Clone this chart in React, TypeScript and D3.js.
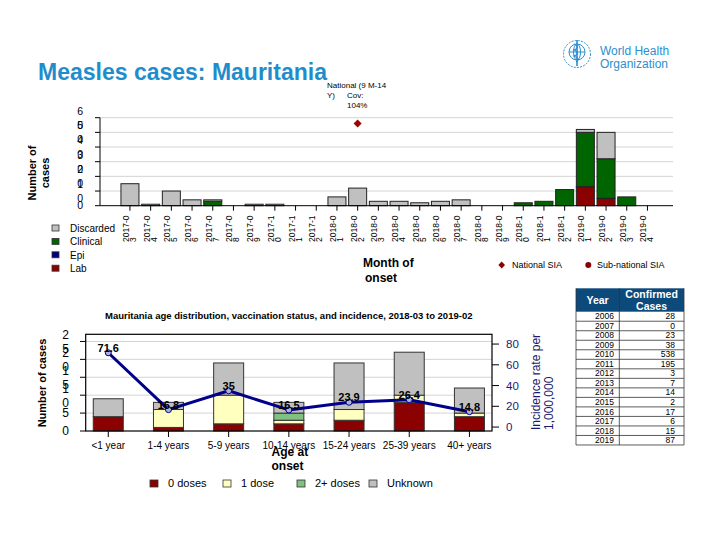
import React from "react";
import * as d3 from "d3";

// top chart: monthly cases by classification
const months = [
  "2017-03", "2017-04", "2017-05", "2017-06", "2017-07", "2017-08", "2017-09", "2017-10",
  "2017-11", "2017-12", "2018-01", "2018-02", "2018-03", "2018-04", "2018-05", "2018-06",
  "2018-07", "2018-08", "2018-09", "2018-10", "2018-11", "2018-12", "2019-01", "2019-02",
  "2019-03", "2019-04",
];
const lab = [0, 0, 0, 0, 0, 0, 0, 0, 0, 0, 0, 0, 0, 0, 0, 0, 0, 0, 0, 0, 0, 0, 13, 5, 0, 0];
const epi = [0, 0, 0, 0, 0, 0, 0, 0, 0, 0, 0, 0, 0, 0, 0, 0, 0, 0, 0, 0, 0, 0, 0, 0, 0, 0];
const clinical = [0, 0, 0, 0, 3, 0, 0, 0, 0, 0, 0, 0, 0, 0, 0, 0, 0, 0, 0, 2, 3, 11, 37, 27, 6, 0];
const discarded = [15, 1, 10, 4, 1, 0, 1, 1, 0, 0, 6, 12, 3, 3, 2, 3, 4, 0, 0, 0, 0, 0, 2, 18, 0, 0];
const nationalSia = [{ month: "2018-02", value: 56 }];
const topTicks = [0, 10, 20, 30, 40, 50, 60];

// bottom chart: age groups
const ageGroups = ["<1 year", "1-4 years", "5-9 years", "10-14 years", "15-24 years", "25-39 years", "40+ years"];
const zeroDoses = [4, 1, 2, 2, 3, 8, 4];
const oneDose = [0, 5, 8, 1, 3, 2, 1];
const twoPlusDoses = [0, 0, 0, 2, 0, 0, 0];
const unknownDoses = [5, 2, 9, 3, 13, 12, 7];
const incidence = [71.6, 16.8, 35, 16.5, 23.9, 26.4, 14.8];
const caseTicks = [0, 5, 10, 15, 20, 25];
const rateTicks = [0, 20, 40, 60, 80];

// table
const years = [2006, 2007, 2008, 2009, 2010, 2011, 2012, 2013, 2014, 2015, 2016, 2017, 2018, 2019];
const confirmed = [28, 0, 23, 38, 538, 195, 3, 7, 14, 2, 17, 6, 15, 87];

const FONT = "Arial, 'Liberation Sans', sans-serif";
const topKeys = ["Lab", "Epi", "Clinical", "Discarded"];
const topColors: Record<string, string> = {
  Lab: "#8b0000", Epi: "#000080", Clinical: "#006400", Discarded: "#c0c0c0",
};
const ageKeys = ["0 doses", "1 dose", "2+ doses", "Unknown"];
const ageColors: Record<string, string> = {
  "0 doses": "#8b0000", "1 dose": "#ffffc0", "2+ doses": "#80c080", Unknown: "#c0c0c0",
};

// narrow label boxes in the original wrap "60" into "6" / "0"
function wrapTick(t: number) {
  const s = String(t);
  if (s.length < 2) return [s];
  return [s.slice(0, 1), s.slice(1)];
}

const App = () => {
  // ---------- top chart ----------
  const xTop = d3.scaleBand<string>().domain(months).range([119.6, 657.8])
    .paddingInner(0.13).paddingOuter(0.065);
  const yTop = d3.scaleLinear().domain([0, 60]).range([205.7, 117.7]);
  const topRows = months.map((m, i) => ({
    month: m, Lab: lab[i], Epi: epi[i], Clinical: clinical[i], Discarded: discarded[i],
  }));
  const topStack = d3.stack<any>().keys(topKeys)(topRows);

  // ---------- bottom chart ----------
  const xAge = d3.scalePoint<string>().domain(ageGroups).range([85.7, 492]).padding(0.375);
  const yCases = d3.scaleLinear().domain([0, 27]).range([431, 334.3]);
  const yRate = d3.scaleLinear().domain([-3.8, 89.4]).range([431, 334.3]);
  const ageRows = ageGroups.map((g, i) => ({
    group: g, "0 doses": zeroDoses[i], "1 dose": oneDose[i], "2+ doses": twoPlusDoses[i], Unknown: unknownDoses[i],
  }));
  const ageStack = d3.stack<any>().keys(ageKeys)(ageRows);
  const line = d3.line<number>()
    .x((_, i) => xAge(ageGroups[i]) as number)
    .y(d => yRate(d));

  const rowH = 9.52;
  const tableTop = 311.7;

  return (
    <svg width={720} height={540} style={{ position: "absolute", left: 0, top: 0, background: "#fff" }}
      fontFamily={FONT}>
      <rect width={720} height={540} fill="#fff" />
      {/* title */}
      <text x={38} y={80} fontSize={23} fontWeight="bold" fill="#1f8dcb">Measles cases: Mauritania</text>

      {/* WHO logo */}
      <g stroke="#2b8fd0" fill="none" strokeWidth={1}>
        <circle cx={577} cy={54} r={13.5} strokeDasharray="2 1.2" />
        <circle cx={577} cy={52} r={8} />
        <ellipse cx={577} cy={52} rx={3.5} ry={8} />
        <line x1={569} y1={52} x2={585} y2={52} />
        <line x1={577} y1={40} x2={577} y2={66} strokeWidth={1.6} />
        <path d="M574 44 Q581 47 574 50 Q581 53 574 56 Q581 59 576 62" strokeWidth={1.2} />
      </g>
      <text x={600} y={55} fontSize={12} fill="#2b8fd0">World Health</text>
      <text x={600} y={68} fontSize={12} fill="#2b8fd0">Organization</text>

      {/* ---------- top chart ---------- */}
      {topTicks.filter(t => t > 0).map(t => (
        <line key={"g" + t} x1={100} x2={673} y1={yTop(t)} y2={yTop(t)} stroke="#d4d4d4" strokeWidth={1} />
      ))}
      {topStack.map(layer => (
        <g key={layer.key} fill={topColors[layer.key]}>
          {layer.map((d, i) => d[1] - d[0] > 0 ? (
            <rect key={i} x={xTop(months[i])} width={xTop.bandwidth()}
              y={yTop(d[1])} height={yTop(d[0]) - yTop(d[1])} stroke="#222" strokeWidth={1} />
          ) : null)}
        </g>
      ))}
      <line x1={100} x2={100} y1={yTop(60)} y2={yTop(0)} stroke="#000" />
      <line x1={100} x2={673} y1={yTop(0)} y2={yTop(0)} stroke="#000" />
      {topTicks.map(t => (
        <g key={"yt" + t}>
          <line x1={95} x2={100} y1={yTop(t)} y2={yTop(t)} stroke="#000" />
          <text x={83} y={yTop(t)} fontSize={10.5} textAnchor="end" fill="#000">
            {wrapTick(t).length === 1
              ? <tspan x={83} dy={3.5}>{t}</tspan>
              : wrapTick(t).map((s, k) => (
                <tspan key={k} x={83} dy={k === 0 ? -3 : 14}>{s}</tspan>
              ))}
          </text>
        </g>
      ))}
      {months.map(m => {
        const cx = (xTop(m) as number) + xTop.bandwidth() / 2;
        return (
          <g key={"xt" + m}>
            <line x1={cx} x2={cx} y1={yTop(0)} y2={yTop(0) + 5} stroke="#000" />
            <text transform={`translate(${cx},242) rotate(-90)`} fontSize={8.5} fill="#000">
              <tspan x={0} y={-1}>{m.slice(0, 6)}</tspan>
              <tspan x={0} y={6}>{m.slice(6)}</tspan>
            </text>
          </g>
        );
      })}
      <text transform="translate(36,173) rotate(-90)" fontSize={11} fontWeight="bold" textAnchor="middle">
        <tspan x={0} y={0}>Number of</tspan>
        <tspan x={0} y={13}>cases</tspan>
      </text>
      {/* SIA marker */}
      {nationalSia.map(s => {
        const cx = (xTop(s.month) as number) + xTop.bandwidth() / 2;
        const cy = yTop(s.value);
        return <path key={s.month} d={`M${cx},${cy - 4}L${cx + 4},${cy}L${cx},${cy + 4}L${cx - 4},${cy}Z`} fill="#a00000" />;
      })}
      <text fontSize={8} fill="#000">
        <tspan x={327} y={88}>National (9 M-14</tspan>
        <tspan x={327} y={98}>Y)</tspan>
      </text>
      <text fontSize={8} fill="#000">
        <tspan x={347} y={98}>Cov:</tspan>
        <tspan x={347} y={108}>104%</tspan>
      </text>
      {/* left legend */}
      {[...topKeys].reverse().map((k, i) => (
        <g key={"lg" + k}>
          <rect x={52} y={225 + i * 13.4} width={7} height={6} fill={topColors[k]} stroke="#333" strokeWidth={0.8} />
          <text x={70} y={232 + i * 13.4} fontSize={10}>{k}</text>
        </g>
      ))}
      <text fontSize={12} fontWeight="bold">
        <tspan x={363} y={267}>Month of</tspan>
        <tspan x={365} y={282}>onset</tspan>
      </text>
      {/* SIA legend */}
      <path d="M501.7,261.5L505,265L501.7,268.5L498.4,265Z" fill="#8b0000" />
      <text x={512} y={268} fontSize={9}>National SIA</text>
      <circle cx={588.3} cy={265} r={3} fill="#8b0000" />
      <text x={597} y={268} fontSize={9}>Sub-national SIA</text>

      {/* ---------- table ---------- */}
      <rect x={576} y={288.3} width={108} height={tableTop - 288.3} fill="#0d4a7c" />
      <text x={597.6} y={303.5} fontSize={10.5} fontWeight="bold" fill="#fff" textAnchor="middle">Year</text>
      <text x={651.6} y={298} fontSize={10.5} fontWeight="bold" fill="#fff" textAnchor="middle">Confirmed</text>
      <text x={651.6} y={309.5} fontSize={10.5} fontWeight="bold" fill="#fff" textAnchor="middle">Cases</text>
      {years.map((yr, i) => (
        <g key={yr}>
          <text x={604.5} y={tableTop + i * rowH + 7.6} fontSize={8.5} textAnchor="middle">{yr}</text>
          <text x={675} y={tableTop + i * rowH + 7.6} fontSize={8.5} textAnchor="end">{confirmed[i]}</text>
          <line x1={576} x2={684} y1={tableTop + (i + 1) * rowH} y2={tableTop + (i + 1) * rowH} stroke="#333" strokeWidth={0.8} />
        </g>
      ))}
      <line x1={576} x2={576} y1={288.3} y2={tableTop + years.length * rowH} stroke="#333" strokeWidth={0.8} />
      <line x1={619.3} x2={619.3} y1={288.3} y2={tableTop + years.length * rowH} stroke="#333" strokeWidth={0.8} />
      <line x1={684} x2={684} y1={288.3} y2={tableTop + years.length * rowH} stroke="#333" strokeWidth={0.8} />

      {/* ---------- bottom chart ---------- */}
      <text x={105} y={319} fontSize={9.5} fontWeight="bold">
        Mauritania age distribution, vaccination status, and incidence, 2018-03 to 2019-02
      </text>
      {caseTicks.filter(t => t > 0).map(t => (
        <line key={"bg" + t} x1={85.7} x2={492} y1={yCases(t)} y2={yCases(t)} stroke="#d4d4d4" />
      ))}
      {ageStack.map(layer => (
        <g key={layer.key} fill={ageColors[layer.key]}>
          {layer.map((d, i) => d[1] - d[0] > 0 ? (
            <rect key={i} x={(xAge(ageGroups[i]) as number) - 15} width={30}
              y={yCases(d[1])} height={yCases(d[0]) - yCases(d[1])} stroke="#333" strokeWidth={1} />
          ) : null)}
        </g>
      ))}
      <rect x={85.7} y={334.3} width={492 - 85.7} height={431 - 334.3} fill="none" stroke="#000" strokeWidth={1.2} />
      {caseTicks.map(t => (
        <g key={"ct" + t}>
          <line x1={80} x2={85.7} y1={yCases(t)} y2={yCases(t)} stroke="#000" />
          <text x={69} y={yCases(t)} fontSize={12} textAnchor="end">
            {wrapTick(t).length === 1
              ? <tspan x={69} dy={4}>{t}</tspan>
              : wrapTick(t).map((s, k) => (
                <tspan key={k} x={69} dy={k === 0 ? -2 : 14}>{s}</tspan>
              ))}
          </text>
        </g>
      ))}
      {rateTicks.map(t => (
        <g key={"rt" + t}>
          <line x1={492} x2={499} y1={yRate(t)} y2={yRate(t)} stroke="#000" />
          <text x={506} y={yRate(t) + 4} fontSize={11.5} fill="#1a1a70">{t}</text>
        </g>
      ))}
      {ageGroups.map(g => (
        <g key={"at" + g}>
          <line x1={xAge(g)} x2={xAge(g)} y1={431} y2={437} stroke="#000" />
          <text x={xAge(g)} y={449} fontSize={10} textAnchor="middle">{g}</text>
        </g>
      ))}
      <path d={line(incidence) || ""} fill="none" stroke="#00008b" strokeWidth={3} strokeLinejoin="round" />
      {incidence.map((v, i) => (
        <g key={"pt" + i}>
          <circle cx={xAge(ageGroups[i])} cy={yRate(v)} r={3} fill="#b0b0e0" stroke="#00008b" strokeWidth={1} />
          <text x={xAge(ageGroups[i])} y={yRate(v) - 1} fontSize={11} fontWeight="bold" textAnchor="middle">{v}</text>
        </g>
      ))}
      <text transform="translate(46,383) rotate(-90)" fontSize={11} fontWeight="bold" textAnchor="middle">Number of cases</text>
      <text transform="translate(540,430) rotate(-90)" fontSize={12} fill="#1a1a70">
        <tspan x={0} y={0}>Incidence rate per</tspan>
        <tspan x={0} y={13}>1,000,000</tspan>
      </text>
      <text fontSize={12} fontWeight="bold">
        <tspan x={271.5} y={456}>Age at</tspan>
        <tspan x={271.5} y={470}>onset</tspan>
      </text>
      {ageKeys.map((k, i) => {
        const bx = [150, 223, 297, 369][i];
        return (
          <g key={"al" + k}>
            <rect x={bx} y={480} width={8} height={7} fill={ageColors[k]} stroke="#333" strokeWidth={0.8} />
            <text x={bx + 18} y={487} fontSize={11}>{k}</text>
          </g>
        );
      })}
    </svg>
  );
};

export default App;
